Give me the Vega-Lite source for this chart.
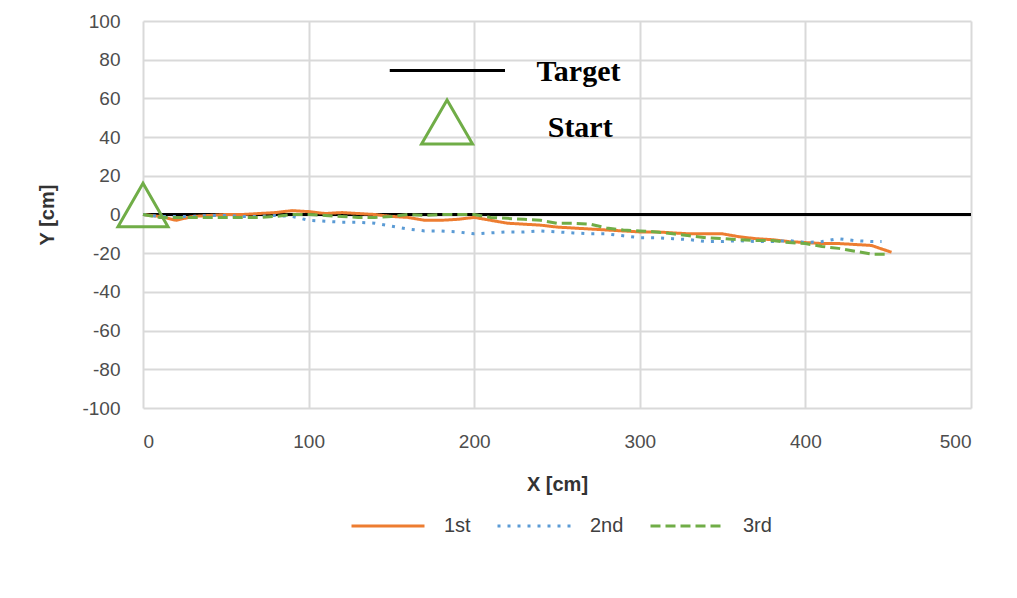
{
  "$schema": "https://vega.github.io/schema/vega-lite/v6.json",
  "width": 828,
  "height": 387,
  "autosize": {"type": "none"},
  "padding": {"left": 143, "top": 21, "right": 46, "bottom": 190},
  "background": "white",
  "config": {
    "view": {"stroke": null},
    "font": "Liberation Sans",
    "axis": {
      "gridColor": "#d9d9d9",
      "gridWidth": 2,
      "domain": false,
      "ticks": false,
      "labelOverlap": false,
      "labelFont": "Liberation Sans",
      "labelFontSize": 19,
      "labelColor": "#4d4d4d",
      "titleFont": "Liberation Sans",
      "titleFontSize": 20,
      "titleFontWeight": "bold",
      "titleColor": "#333333"
    }
  },
  "datasets": {
    "runs": [
      {"run": "1st", "x": 0, "y": 0}, {"run": "1st", "x": 10, "y": -1}, {"run": "1st", "x": 20, "y": -3}, {"run": "1st", "x": 30, "y": -1}, {"run": "1st", "x": 40, "y": -0.5}, {"run": "1st", "x": 50, "y": 0}, {"run": "1st", "x": 60, "y": 0}, {"run": "1st", "x": 70, "y": 0.5}, {"run": "1st", "x": 80, "y": 1}, {"run": "1st", "x": 90, "y": 2}, {"run": "1st", "x": 100, "y": 1.5}, {"run": "1st", "x": 110, "y": 0.5}, {"run": "1st", "x": 120, "y": 1}, {"run": "1st", "x": 130, "y": 0.5}, {"run": "1st", "x": 140, "y": 0}, {"run": "1st", "x": 150, "y": -1}, {"run": "1st", "x": 160, "y": -1.5}, {"run": "1st", "x": 170, "y": -3}, {"run": "1st", "x": 180, "y": -3}, {"run": "1st", "x": 190, "y": -2.5}, {"run": "1st", "x": 200, "y": -1.5}, {"run": "1st", "x": 210, "y": -3}, {"run": "1st", "x": 220, "y": -4.5}, {"run": "1st", "x": 230, "y": -5}, {"run": "1st", "x": 240, "y": -5.5}, {"run": "1st", "x": 250, "y": -6.5}, {"run": "1st", "x": 260, "y": -7}, {"run": "1st", "x": 270, "y": -7.5}, {"run": "1st", "x": 280, "y": -8}, {"run": "1st", "x": 290, "y": -8.5}, {"run": "1st", "x": 300, "y": -9}, {"run": "1st", "x": 310, "y": -9}, {"run": "1st", "x": 320, "y": -9.5}, {"run": "1st", "x": 330, "y": -10}, {"run": "1st", "x": 340, "y": -10}, {"run": "1st", "x": 350, "y": -10}, {"run": "1st", "x": 360, "y": -11.5}, {"run": "1st", "x": 370, "y": -12.5}, {"run": "1st", "x": 380, "y": -13}, {"run": "1st", "x": 390, "y": -14}, {"run": "1st", "x": 400, "y": -14.5}, {"run": "1st", "x": 410, "y": -15}, {"run": "1st", "x": 420, "y": -15}, {"run": "1st", "x": 430, "y": -15.5}, {"run": "1st", "x": 440, "y": -16}, {"run": "1st", "x": 445, "y": -17.5}, {"run": "1st", "x": 452, "y": -19.5},
      {"run": "2nd", "x": 0, "y": 0}, {"run": "2nd", "x": 10, "y": -1}, {"run": "2nd", "x": 20, "y": -1}, {"run": "2nd", "x": 30, "y": -1}, {"run": "2nd", "x": 40, "y": -0.5}, {"run": "2nd", "x": 50, "y": -0.5}, {"run": "2nd", "x": 60, "y": -1}, {"run": "2nd", "x": 70, "y": -1}, {"run": "2nd", "x": 80, "y": -0.5}, {"run": "2nd", "x": 90, "y": -1}, {"run": "2nd", "x": 100, "y": -3}, {"run": "2nd", "x": 110, "y": -3.5}, {"run": "2nd", "x": 120, "y": -4}, {"run": "2nd", "x": 130, "y": -4}, {"run": "2nd", "x": 140, "y": -4.5}, {"run": "2nd", "x": 150, "y": -6}, {"run": "2nd", "x": 160, "y": -7.5}, {"run": "2nd", "x": 170, "y": -8.5}, {"run": "2nd", "x": 180, "y": -8.5}, {"run": "2nd", "x": 190, "y": -9}, {"run": "2nd", "x": 200, "y": -10}, {"run": "2nd", "x": 210, "y": -9.5}, {"run": "2nd", "x": 220, "y": -9}, {"run": "2nd", "x": 230, "y": -9}, {"run": "2nd", "x": 240, "y": -8.5}, {"run": "2nd", "x": 250, "y": -9}, {"run": "2nd", "x": 260, "y": -9.5}, {"run": "2nd", "x": 270, "y": -10}, {"run": "2nd", "x": 280, "y": -10}, {"run": "2nd", "x": 290, "y": -11}, {"run": "2nd", "x": 300, "y": -12}, {"run": "2nd", "x": 310, "y": -12}, {"run": "2nd", "x": 320, "y": -12.5}, {"run": "2nd", "x": 330, "y": -13}, {"run": "2nd", "x": 340, "y": -14}, {"run": "2nd", "x": 350, "y": -14}, {"run": "2nd", "x": 360, "y": -13.5}, {"run": "2nd", "x": 370, "y": -14}, {"run": "2nd", "x": 380, "y": -14}, {"run": "2nd", "x": 390, "y": -13.5}, {"run": "2nd", "x": 400, "y": -14.5}, {"run": "2nd", "x": 410, "y": -14}, {"run": "2nd", "x": 420, "y": -12.5}, {"run": "2nd", "x": 430, "y": -13.5}, {"run": "2nd", "x": 440, "y": -14}, {"run": "2nd", "x": 446, "y": -14},
      {"run": "3rd", "x": 0, "y": 0}, {"run": "3rd", "x": 10, "y": -1.5}, {"run": "3rd", "x": 20, "y": -1.5}, {"run": "3rd", "x": 30, "y": -1.5}, {"run": "3rd", "x": 40, "y": -1.5}, {"run": "3rd", "x": 50, "y": -1.5}, {"run": "3rd", "x": 60, "y": -1.5}, {"run": "3rd", "x": 70, "y": -1.5}, {"run": "3rd", "x": 80, "y": -1}, {"run": "3rd", "x": 90, "y": 0}, {"run": "3rd", "x": 100, "y": 0}, {"run": "3rd", "x": 110, "y": -0.5}, {"run": "3rd", "x": 120, "y": -1}, {"run": "3rd", "x": 130, "y": -1.5}, {"run": "3rd", "x": 140, "y": -1.5}, {"run": "3rd", "x": 150, "y": -1}, {"run": "3rd", "x": 160, "y": 0}, {"run": "3rd", "x": 170, "y": -0.5}, {"run": "3rd", "x": 180, "y": 0}, {"run": "3rd", "x": 190, "y": 0}, {"run": "3rd", "x": 200, "y": 0}, {"run": "3rd", "x": 210, "y": -1.5}, {"run": "3rd", "x": 220, "y": -2}, {"run": "3rd", "x": 230, "y": -2.5}, {"run": "3rd", "x": 240, "y": -3}, {"run": "3rd", "x": 250, "y": -4.5}, {"run": "3rd", "x": 260, "y": -4.5}, {"run": "3rd", "x": 270, "y": -5}, {"run": "3rd", "x": 280, "y": -7}, {"run": "3rd", "x": 290, "y": -8}, {"run": "3rd", "x": 300, "y": -8.5}, {"run": "3rd", "x": 310, "y": -9}, {"run": "3rd", "x": 320, "y": -10}, {"run": "3rd", "x": 330, "y": -11}, {"run": "3rd", "x": 340, "y": -12}, {"run": "3rd", "x": 350, "y": -12.5}, {"run": "3rd", "x": 360, "y": -13}, {"run": "3rd", "x": 370, "y": -13.5}, {"run": "3rd", "x": 380, "y": -13.5}, {"run": "3rd", "x": 390, "y": -14.5}, {"run": "3rd", "x": 400, "y": -15}, {"run": "3rd", "x": 410, "y": -16.5}, {"run": "3rd", "x": 420, "y": -17.5}, {"run": "3rd", "x": 430, "y": -19}, {"run": "3rd", "x": 440, "y": -20.5}, {"run": "3rd", "x": 450, "y": -20.5}
    ],
    "target": [{"x": 0, "x2": 500, "y": 0}],
    "keyLine": [{"x": 149, "x2": 218.6, "y": 74.4}],
    "keyText": [{"label": "Target", "x": 263, "y": 73.5}, {"label": "Start", "x": 264, "y": 44.5}],
    "keyStart": [{"x": 183.6, "y": 47.8}],
    "start": [{"x": 0, "y": 0}]
  },
  "layer": [
    {
      "data": {"name": "target"},
      "mark": {"type": "rule", "color": "#000000", "strokeWidth": 3},
      "encoding": {
        "x": {"field": "x", "type": "quantitative", "title": "X [cm]",
          "scale": {"domain": [0, 500], "nice": false},
          "axis": {"values": [0, 100, 200, 300, 400, 500], "tickCount": 20, "grid": true, "labelExpr": "'' + datum.value", "labelPadding": 24, "titleX": 414, "titleY": 76, "titleBaseline": "middle"}},
        "x2": {"field": "x2"},
        "y": {"field": "y", "type": "quantitative", "title": "Y [cm]",
          "scale": {"domain": [-100, 100], "nice": false},
          "axis": {"values": [-100, -80, -60, -40, -20, 0, 20, 40, 60, 80, 100], "tickCount": 20, "grid": true, "labelOverlap": false, "labelExpr": "'' + datum.value", "labelPadding": 23, "titleX": -96, "titleY": 193.5, "titleBaseline": "middle", "titleAlign": "center", "titleAngle": -90}}
      }
    },
    {
      "data": {"name": "runs"},
      "mark": {"type": "line", "strokeWidth": 3},
      "encoding": {
        "x": {"field": "x", "type": "quantitative"},
        "y": {"field": "y", "type": "quantitative"},
        "color": {"field": "run", "type": "nominal",
          "scale": {"domain": ["1st", "2nd", "3rd"], "range": ["#ED7D31", "#5B9BD5", "#70AD47"]},
          "legend": {"title": null, "orient": "none", "direction": "horizontal", "legendX": 207, "legendY": 467,
            "symbolType": "stroke", "symbolSize": 5329, "symbolStrokeWidth": 3, "labelFontSize": 20, "labelColor": "#404040",
            "labelFont": "Liberation Sans", "labelOffset": 18, "columnPadding": 20}},
        "strokeDash": {"field": "run", "type": "nominal",
          "scale": {"domain": ["1st", "2nd", "3rd"], "range": [[1, 0], [3, 7], [10, 5]]},
          "legend": {"title": null, "orient": "none", "direction": "horizontal", "legendX": 207, "legendY": 467,
            "symbolType": "stroke", "symbolSize": 5329, "symbolStrokeWidth": 3, "labelFontSize": 20, "labelColor": "#404040",
            "labelFont": "Liberation Sans", "labelOffset": 18, "columnPadding": 20}}
      }
    },
    {
      "data": {"name": "keyLine"},
      "mark": {"type": "rule", "color": "#000000", "strokeWidth": 3},
      "encoding": {
        "x": {"field": "x", "type": "quantitative"},
        "x2": {"field": "x2"},
        "y": {"field": "y", "type": "quantitative"}
      }
    },
    {
      "data": {"name": "keyText"},
      "mark": {"type": "text", "font": "Liberation Serif", "fontWeight": "bold", "fontSize": 30, "color": "#000000", "align": "center", "baseline": "middle"},
      "encoding": {
        "x": {"field": "x", "type": "quantitative"},
        "y": {"field": "y", "type": "quantitative"},
        "text": {"field": "label"}
      }
    },
    {
      "data": {"name": "keyStart"},
      "mark": {"type": "point", "shape": "triangle-up", "size": 2600, "filled": false, "stroke": "#70AD47", "strokeWidth": 3, "opacity": 1},
      "encoding": {
        "x": {"field": "x", "type": "quantitative"},
        "y": {"field": "y", "type": "quantitative"}
      }
    },
    {
      "data": {"name": "start"},
      "mark": {"type": "point", "shape": "triangle-up", "size": 2500, "filled": false, "stroke": "#70AD47", "strokeWidth": 3, "opacity": 1, "yOffset": -9.5, "clip": false},
      "encoding": {
        "x": {"field": "x", "type": "quantitative"},
        "y": {"field": "y", "type": "quantitative"}
      }
    }
  ]
}
